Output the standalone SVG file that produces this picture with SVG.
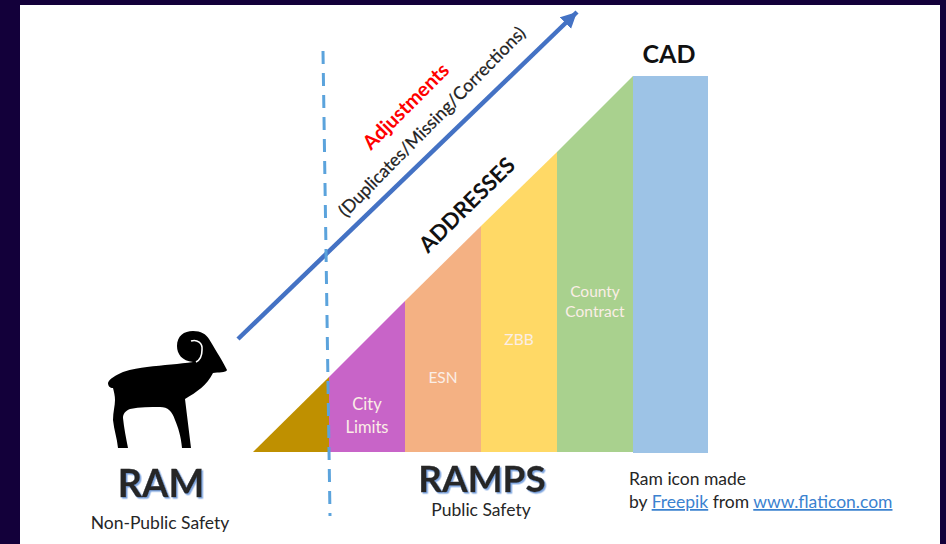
<svg xmlns="http://www.w3.org/2000/svg" width="946" height="544" viewBox="0 0 946 544">
<defs>
<style>
text{font-family:Lato,"Liberation Sans",sans-serif}
.w{fill:#fbeee6;font-size:15.5px;text-anchor:middle}
.k{fill:#262626;font-size:17.5px}
.big{font-weight:700;text-anchor:middle;fill:#262626;stroke:#262626;stroke-width:.3px;filter:url(#ds)}
.l{fill:#3b82d0;text-decoration:underline}
</style>
<filter id="ds" x="-10%" y="-10%" width="120%" height="130%"><feDropShadow dx="1.5" dy="1.5" stdDeviation="0.4" flood-color="#7fa6e0"/></filter>
<marker id="ah" markerUnits="userSpaceOnUse" markerWidth="18" markerHeight="18" refX="16" refY="8" orient="auto"><path d="M0 0L16 8L0 16z" fill="#4472c4"/></marker>
</defs>
<rect width="946" height="544" fill="#13003a"/>
<rect x="20" y="5" width="920" height="539" fill="#fff"/>
<g id="node-base"><path d="M253 452L329 377V452z" fill="#bf9000"/></g>
<g id="node-city"><path d="M329 377L405 301V452H329z" fill="#c864c8"/><text class="w" style="font-size:16.5px" x="367" y="410">City</text><text class="w" style="font-size:16.5px" x="367" y="433">Limits</text></g>
<g id="node-esn"><path d="M405 301L481 226V452H405z" fill="#f4b183"/><text class="w" x="443" y="383">ESN</text></g>
<g id="node-zbb"><path d="M481 226L557 152V452H481z" fill="#ffd966"/><text class="w" x="519" y="345">ZBB</text></g>
<g id="node-county"><path d="M557 152L633 76V452H557z" fill="#a9d18e"/><text class="w" x="595" y="297">County</text><text class="w" x="595" y="317">Contract</text></g>
<g id="node-cad"><rect x="633" y="76" width="75" height="377" fill="#9dc3e6"/><text x="669" y="63" font-size="25" font-weight="700" text-anchor="middle" fill="#111">CAD</text></g>
<g id="connectors" fill="none">
<path d="M238 339L577 12" stroke="#4472c4" stroke-width="4.5" marker-end="url(#ah)"/>
<path d="M323 51L330 516" stroke="#5ba3dc" stroke-width="3" stroke-dasharray="13 9"/>
</g>
<g id="node-labels">
<text transform="translate(371 151) rotate(-45)" font-size="20" font-weight="700" fill="#f00">Adjustments</text>
<text transform="translate(346 218) rotate(-45.5)" font-size="17.8" fill="#222" stroke="#222" stroke-width=".25">(Duplicates/Missing/Corrections)</text>
<text transform="translate(428 254) rotate(-44.5)" font-size="22" font-weight="700" fill="#111">ADDRESSES</text>
</g>
<g id="node-ram">
<path d="M108 383C109 379 116 375 123 372C132 369 140 368 147 367C163 365 180 364 193 362C182 361 177 354 177 346C177 336 184 331 193 331C201 331 206 334 209 339C213 346 221 358 227 370C226 373 218 372 213 373C207 385 197 392 185 399C187 415 189 432 191 448H182C181 436 178 427 175 420C172 411 168 407 160 407C150 407 140 407 130 409C125 411 123 414 123 418C124 428 126 438 128 448H118C117 438 114 430 113 420C113 412 115 406 115 400C115 396 114 392 113 388C110 388 108 386 108 383z" fill="#000"/>
<path d="M191 341C197 339 203 343 202 350C202 355 200 360 196 362" fill="none" stroke="#fff" stroke-width="1.6"/>
<text class="big" x="161" y="497" font-size="38">RAM</text>
<text class="k" x="160" y="529" text-anchor="middle">Non-Public Safety</text>
</g>
<g id="node-ramps">
<text class="big" x="482" y="492" font-size="37">RAMPS</text>
<text class="k" x="481" y="516" text-anchor="middle">Public Safety</text>
</g>
<g id="node-credit">
<text class="k" x="629" y="485">Ram icon made</text>
<text class="k" x="629" y="508">by <tspan class="l">Freepik</tspan> from <tspan class="l">www.flaticon.com</tspan></text>
</g>
</svg>
